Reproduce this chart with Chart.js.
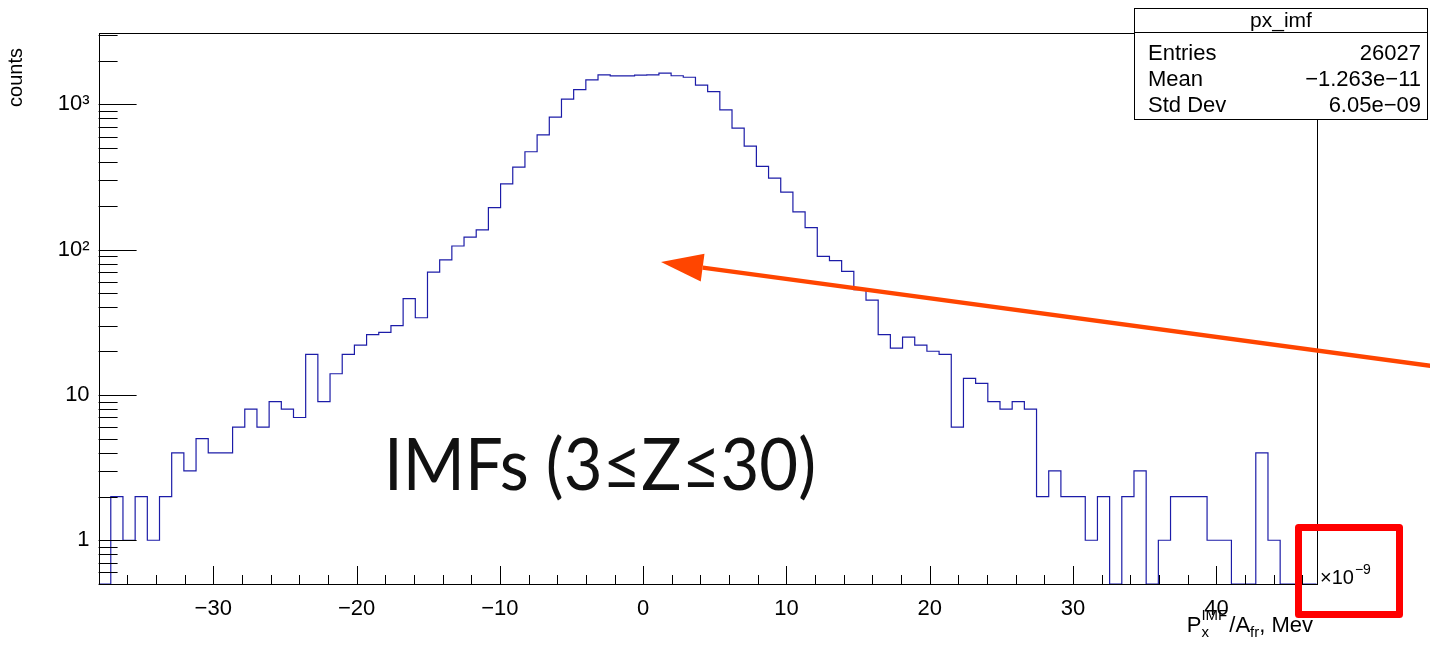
<!DOCTYPE html>
<html><head><meta charset="utf-8">
<script src="https://cdn.jsdelivr.net/npm/chart.js@4.4.1/dist/chart.umd.min.js"></script>
<style>html,body{margin:0;padding:0;background:#fff;}canvas{display:block;}</style>
</head><body>
<canvas id="c" width="1430" height="645"></canvas>
<script>
// ---- data (x in units of 1e-9) ----
const BIN_LOW = -38;
const BIN_HIGH = 47;
const COUNTS = [
  0, 2, 1, 2, 1, 2, 4, 3, 5, 4,
  4, 6, 8, 6, 9, 8, 7, 19, 9, 14,
  19, 22, 26, 27, 30, 46, 34, 70, 85, 106,
  122, 137, 195, 284, 370, 472, 617, 817, 1086, 1265,
  1473, 1595, 1570, 1570, 1590, 1595, 1640, 1575, 1538, 1355,
  1225, 916, 686, 516, 374, 311, 249, 182, 142, 90,
  84, 71, 53, 45, 26, 21, 25, 22, 20, 19,
  6, 13, 12, 9, 8, 9, 8, 2, 3, 2,
  2, 1, 2, 0, 2, 3, 0, 1, 2, 2,
  2, 1, 1, 0, 0, 4, 1, 0, 0, 0
];
const X_TICKS = [-30, -20, -10, 0, 10, 20, 30, 40];
const X_TICK_LABELS = ['\u221230', '\u221220', '\u221210', '0', '10', '20', '30', '40'];
const Y_TICKS = [1, 10, 100, 1000];
const Y_TICK_LABELS = ['1', '10', '10\u00b2', '10\u00b3'];
const Y_MIN = 0.5;
const Y_MAX = 3100;
const STAT_TITLE = 'px_imf';
const STAT_NAMES = ['Entries', 'Mean', 'Std Dev'];
const STAT_VALUES = ['26027', '\u22121.263e\u221211', '6.05e\u221209'];
const ANNOTATION = 'IMFs (3\u2264Z\u226430)';

// ---- build step points from the bins ----
const binW = (BIN_HIGH - BIN_LOW) / COUNTS.length;
const pts = COUNTS.map((c, i) => ({ x: BIN_LOW + i * binW, y: c > 0 ? c : Y_MIN }));
pts.push({ x: BIN_HIGH, y: pts[pts.length - 1].y });

Chart.defaults.font.family = '"Liberation Sans", Arial, sans-serif';
Chart.defaults.color = '#000';

const decor = {
  id: 'decor',
  afterDraw(chart) {
    const { ctx, chartArea: a, scales: { x, y } } = chart;
    ctx.save();
    ctx.strokeStyle = '#000';
    ctx.lineWidth = 1;
    // inward ticks
    ctx.beginPath();
    for (let d = -1; d <= 4; d++) {
      for (let m = 1; m <= 9; m++) {
        const v = m * Math.pow(10, d);
        if (v < Y_MIN || v > Y_MAX) continue;
        const py = Math.round(y.getPixelForValue(v)) + 0.5;
        const len = m === 1 ? 38 : 19;
        ctx.moveTo(a.left, py); ctx.lineTo(a.left + len, py);
      }
    }
    for (let v = -36; v <= 46; v += 2) {
      const px = Math.round(x.getPixelForValue(v)) + 0.5;
      const len = (v % 10 === 0) ? 18 : 9;
      ctx.moveTo(px, a.bottom); ctx.lineTo(px, a.bottom - len);
    }
    ctx.stroke();
    // frame
    ctx.strokeRect(Math.round(a.left) + 0.5, Math.round(a.top) + 0.5,
      Math.round(a.right) - Math.round(a.left), Math.round(a.bottom) - Math.round(a.top));

    // y title
    ctx.save();
    ctx.translate(22, 48);
    ctx.rotate(-Math.PI / 2);
    ctx.font = '20px "Liberation Sans"';
    ctx.fillStyle = '#000';
    ctx.textAlign = 'right';
    ctx.textBaseline = 'alphabetic';
    ctx.fillText('counts', 0, 0);
    ctx.restore();

    // x title  P_x^IMF / A_fr, Mev  (right aligned)
    const big = '22px "Liberation Sans"', small = '15px "Liberation Sans"';
    ctx.fillStyle = '#000';
    ctx.textAlign = 'left';
    const base = 632;
    const parts = [
      { t: 'P', f: big, dy: 0 },
      { stack: [{ t: 'IMF', dy: -12 }, { t: 'x', dy: 5 }] },
      { t: '/A', f: big, dy: 0, pre: 2 },
      { t: 'fr', f: small, dy: 5 },
      { t: ', Mev', f: big, dy: 0 }
    ];
    const widthOf = p => {
      if (p.stack) { ctx.font = small; return Math.max(...p.stack.map(s => ctx.measureText(s.t).width)); }
      ctx.font = p.f; return ctx.measureText(p.t).width + (p.pre || 0);
    };
    const total = parts.reduce((s, p) => s + widthOf(p), 0);
    let cx = 1313 - total;
    parts.forEach(p => {
      const w = widthOf(p);
      if (p.stack) { ctx.font = small; p.stack.forEach(s => ctx.fillText(s.t, cx, base + s.dy)); }
      else { ctx.font = p.f; ctx.fillText(p.t, cx + (p.pre || 0), base + p.dy); }
      cx += w;
    });

    // x10^-9
    ctx.font = '20px "Liberation Sans"';
    ctx.fillText('\u00d710', 1320, 584);
    const w10 = ctx.measureText('\u00d710').width;
    ctx.font = '14px "Liberation Sans"';
    ctx.fillText('\u22129', 1320 + w10 + 1, 574);

    // stats box
    ctx.fillStyle = '#fff';
    ctx.fillRect(1134, 8, 294, 111);
    ctx.strokeRect(1134.5, 8.5, 293, 111);
    ctx.beginPath(); ctx.moveTo(1134, 32.5); ctx.lineTo(1428, 32.5); ctx.stroke();
    ctx.fillStyle = '#000';
    ctx.font = '21px "Liberation Sans"';
    ctx.textAlign = 'center';
    ctx.fillText(STAT_TITLE, 1281, 27);
    ctx.font = '22px "Liberation Sans"';
    STAT_NAMES.forEach((n, k) => {
      const by = 60 + 26 * k;
      ctx.textAlign = 'left'; ctx.fillText(n, 1148, by);
      ctx.textAlign = 'right'; ctx.fillText(STAT_VALUES[k], 1421, by);
    });

    // big annotation text
    ctx.save();
    ctx.font = '400 72px Lato';
    ctx.textAlign = 'left';
    const tw = ctx.measureText(ANNOTATION).width;
    ctx.translate(384, 490);
    ctx.scale(432 / tw, 1);
    ctx.fillStyle = '#111';
    ctx.fillText(ANNOTATION, 0, 0);
    ctx.restore();

    // orange arrow
    const tip = [661, 262], tail = [1432, 366];
    const dx = tail[0] - tip[0], dy = tail[1] - tip[1];
    const L = Math.hypot(dx, dy), ux = dx / L, uy = dy / L;
    const hl = 42, hw = 14;
    const bc = [tip[0] + ux * hl, tip[1] + uy * hl];
    ctx.strokeStyle = '#ff4500'; ctx.fillStyle = '#ff4500';
    ctx.lineWidth = 4.5;
    ctx.beginPath(); ctx.moveTo(tail[0], tail[1]); ctx.lineTo(bc[0], bc[1]); ctx.stroke();
    ctx.beginPath();
    ctx.moveTo(tip[0], tip[1]);
    ctx.lineTo(bc[0] - uy * hw, bc[1] + ux * hw);
    ctx.lineTo(bc[0] + uy * hw, bc[1] - ux * hw);
    ctx.closePath(); ctx.fill();

    // red box
    ctx.strokeStyle = '#ff0000';
    ctx.lineWidth = 7;
    ctx.lineJoin = 'round';
    ctx.strokeRect(1298.5, 527.5, 101, 87);
    ctx.restore();
  }
};

new Chart(document.getElementById('c'), {
  type: 'line',
  data: {
    datasets: [{
      data: pts,
      stepped: 'before',
      borderColor: '#1c1ca8',
      borderWidth: 1.2,
      pointRadius: 0,
      fill: false,
      tension: 0
    }]
  },
  options: {
    responsive: false,
    animation: false,
    devicePixelRatio: 1,
    layout: { padding: { left: 0, right: 113.3, top: 33, bottom: 0 } },
    plugins: { legend: { display: false }, tooltip: { enabled: false }, title: { display: false } },
    scales: {
      x: {
        type: 'linear', min: BIN_LOW, max: BIN_HIGH,
        grid: { display: false, drawTicks: false }, border: { display: false },
        afterBuildTicks: s => { s.ticks = X_TICKS.map(v => ({ value: v })); },
        afterFit: s => { s.height = 61; },
        ticks: {
          autoSkip: false, maxRotation: 0, padding: 12,
          font: { size: 22 },
          callback: (v) => X_TICK_LABELS[X_TICKS.indexOf(v)]
        }
      },
      y: {
        type: 'logarithmic', min: Y_MIN, max: Y_MAX,
        grid: { display: false, drawTicks: false }, border: { display: false },
        afterBuildTicks: s => { s.ticks = Y_TICKS.map(v => ({ value: v })); },
        afterFit: s => { s.width = 98.6; },
        ticks: {
          autoSkip: false, padding: 9,
          font: { size: 22 },
          callback: (v) => Y_TICK_LABELS[Y_TICKS.indexOf(v)]
        }
      }
    }
  },
  plugins: [decor]
});
</script>
</body></html>
